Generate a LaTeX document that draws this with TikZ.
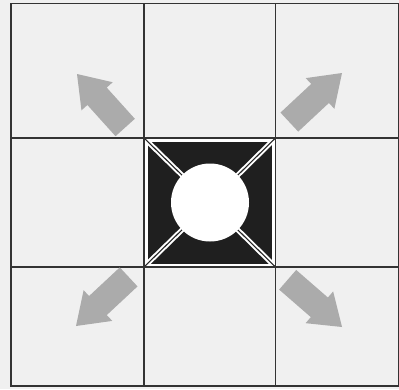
\documentclass[tikz,border=0pt]{standalone}
\begin{document}
\begin{tikzpicture}[x=1pt,y=-1pt,
  gridline/.style={draw=black!80,line width=1.8pt},
  arrowfill/.style={fill=black!33},
  stripe/.style={draw=white,line width=5pt},
  stripecore/.style={draw=black!85,line width=1.1pt}]
\fill[black!6] (0,0) rectangle (399,389);
\useasboundingbox (0,0) rectangle (399,389);
% centre cell
\fill[white] (144,138) rectangle (275.5,267);
\fill[black!88] (147.5,141.5) rectangle (272,263.5);
\coordinate (c) at (210,202.5);
\foreach \p in {(144,138),(275.5,138),(144,267),(275.5,267)}{
  \draw[stripe] \p -- (c);
  \draw[stripecore] \p -- (c);
}
\node[circle,fill=white,minimum size=78pt,inner sep=0pt] (hole) at (c) {};
% grid
\draw[gridline] (11,3.5) rectangle (398.5,386);
\draw[gridline] (144,3.5) -- (144,386);
\draw[gridline] (275.5,3.5) -- (275.5,386);
\draw[gridline] (11,138) -- (398.5,138);
\draw[gridline] (11,267) -- (398.5,267);
% arrows
\foreach \tx/\ty/\a in {77/74/132, 342/73/43, 76/326/223, 342/327/-41}{
  \fill[arrowfill,shift={(\tx,\ty)},rotate=\a]
    (0,0) -- (-30,21) -- (-30,13) -- (-72,13) -- (-72,-13) -- (-30,-13) -- (-30,-21) -- cycle;
}
\end{tikzpicture}
\end{document}
